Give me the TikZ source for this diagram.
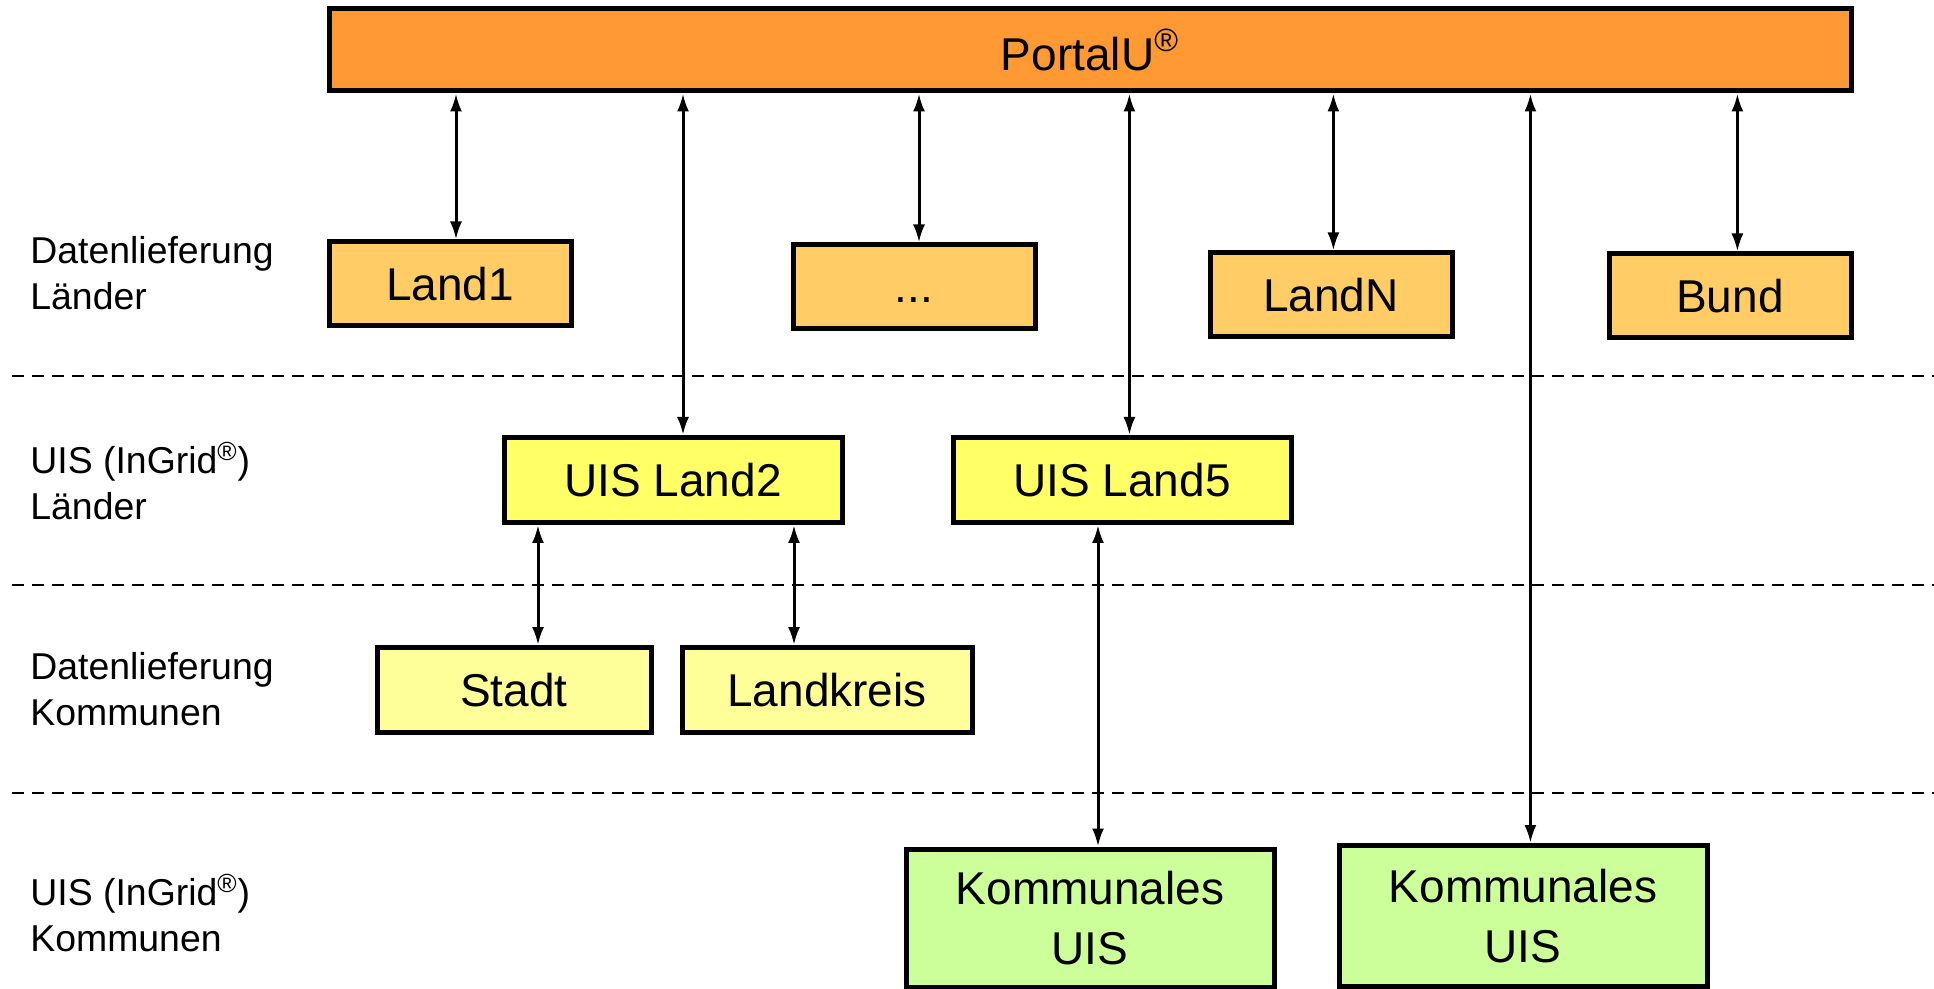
\documentclass[tikz,border=0pt]{standalone}
\usepackage{fontspec}
\setmainfont{Liberation Sans}
\usetikzlibrary{arrows.meta}

\definecolor{portalorange}{HTML}{FF9933}
\definecolor{landorange}{HTML}{FFCC66}
\definecolor{uisyellow}{HTML}{FFFF66}
\definecolor{kommyellow}{HTML}{FFFF99}
\definecolor{kommgreen}{HTML}{CCFF99}

\tikzset{
	box/.style={draw, line width=2.5pt, inner sep=0pt, align=center,
		font=\fontsize{23}{29.6}\selectfont},
	landbox/.style={box, fill=landorange, minimum width=121pt, minimum height=42pt},
	uisbox/.style={box, fill=uisyellow, minimum width=169pt, minimum height=42.5pt},
	kommbox/.style={box, fill=kommyellow, minimum height=42.5pt},
	greenbox/.style={box, fill=kommgreen, minimum width=184pt, minimum height=69pt},
	rowlabel/.style={anchor=west, align=left, inner sep=0pt,
		font=\fontsize{18.7}{22.8}\selectfont},
	conn/.style={{Latex[length=9pt,width=6pt]}-{Latex[length=9pt,width=6pt]}, line width=1.5pt},
	sep/.style={dashed, dash pattern=on 6pt off 4pt, line width=1pt}
}

\begin{document}
\begin{tikzpicture}[x=0.5pt, y=-0.5pt]
	\useasboundingbox (0,0) rectangle (1934,989);
	% portal
	\node[box, fill=portalorange, minimum width=761pt, minimum height=41pt] (portal) at (1090,50) {PortalU\textsuperscript{®}};
	% datenlieferung laender
	\node[landbox] (land1) at (450,284) {Land1};
	\node[landbox] (dots) at (914,287) {\vphantom{L}...};
	\node[landbox] (landn) at (1331,295) {LandN};
	\node[landbox] (bund) at (1730,296) {Bund};
	% uis laender
	\node[uisbox] (land2) at (673,480) {UIS Land2};
	\node[uisbox] (land5) at (1122,480) {UIS Land5};
	% datenlieferung kommunen
	\node[kommbox, minimum width=137pt] (stadt) at (514,690) {Stadt};
	\node[kommbox, minimum width=145pt] (kreis) at (827,690) {Landkreis};
	% uis kommunen
	\node[greenbox] (komm1) at (1090,918) {Kommunales\\UIS};
	\node[greenbox, minimum height=70.5pt] (komm2) at (1523,916) {Kommunales\\UIS};
	% row labels
	\node[rowlabel] (lab1) at (30,273) {Datenlieferung\\Länder};
	\node[rowlabel] (lab2) at (30,481) {UIS (InGrid\textsuperscript{®})\\Länder};
	\node[rowlabel] (lab3) at (30,689) {Datenlieferung\\Kommunen};
	\node[rowlabel] (lab4) at (30,913) {UIS (InGrid\textsuperscript{®})\\Kommunen};
	% trennlinien
	\foreach \y in {376, 585, 793} {
		\draw[sep] (12,\y) -- (1934,\y);
	}
	% verbindungen zum portal
	\foreach \n/\d in {land1/3, dots/2.5, landn/1.2, bund/3.7, land2/5, land5/3.7, komm2/3.7} {
		\draw[conn] ([xshift=\d pt]\n.north) -- ([xshift=\d pt]\n.north |- portal.south);
	}
	% verbindungen zu den kommunen
	\draw[conn] ([xshift=12pt]stadt.north) -- ([xshift=12pt]stadt.north |- land2.south);
	\draw[conn] ([xshift=-16.5pt]kreis.north) -- ([xshift=-16.5pt]kreis.north |- land2.south);
	\draw[conn] ([xshift=4pt]komm1.north) -- ([xshift=4pt]komm1.north |- land5.south);
\end{tikzpicture}
\end{document}
